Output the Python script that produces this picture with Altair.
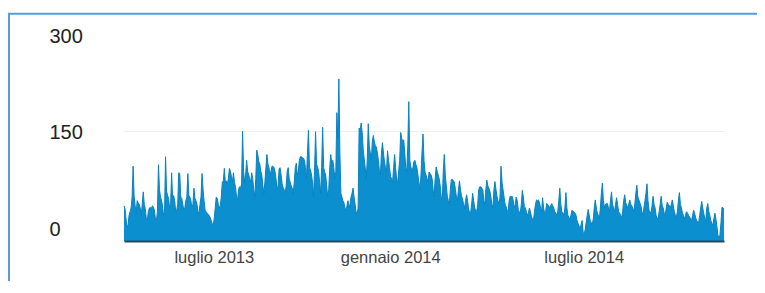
import altair as alt
import pandas as pd

# ---------------- data ----------------
start_date = "2013-02-23"
visits = [
    48, 44, 30, 19, 22, 35, 40, 45, 60, 102,
    60, 48, 38, 55, 52, 50, 45, 35, 50, 67,
    50, 44, 30, 28, 40, 45, 46, 44, 48, 46, 42, 30, 28, 40,
    104, 70, 60, 55, 48, 35, 40,
    115, 68, 62, 58, 45, 50,
    93, 58, 62, 55, 40, 42, 50,
    93, 92, 60, 58, 50, 42, 45, 55, 60,
    92, 62, 60, 55, 45, 50,
    72, 58, 55, 50, 40, 38, 50, 60,
    92, 70, 55, 42, 40, 38, 36, 35, 32, 28, 24, 22, 30, 45,
    60, 58, 50, 45, 48, 60, 80, 82,
    99, 80, 82, 78, 85,
    99, 95, 88, 80, 93, 80, 74, 60, 55, 70, 74, 72, 78,
    150, 95, 80, 90,
    110, 95, 90, 85, 80, 93, 85, 70, 60, 85,
    124, 118, 108, 105, 95, 90, 75, 65, 80, 100,
    118, 105, 100, 90, 95,
    102, 102, 100, 95, 85, 70, 75, 98,
    100, 90, 78, 73, 70, 65, 75, 95,
    100, 85, 80, 75, 72, 65, 80, 100,
    106, 90, 95, 110, 115, 115, 114, 113, 110, 100, 85, 120,
    151, 100, 97, 90, 80, 60, 95,
    149, 105, 101, 95, 80, 65, 100,
    155, 100, 94, 90, 75, 60, 70, 100,
    118, 105, 110, 100, 85, 95,
    175, 140, 221, 120, 65, 60,
    55, 52, 45, 42, 48, 55, 45, 50, 60, 65,
    72, 60, 50, 40, 37, 45,
    154, 150, 161, 148, 125, 112, 100, 85, 110,
    160, 130, 120, 110, 135,
    144, 135, 130, 128, 120, 110, 95, 90, 120,
    134, 120, 108, 100, 95,
    123, 110, 100, 88, 85, 80, 100,
    118, 100, 83, 80, 95, 110,
    148, 140, 135, 138, 120, 100, 95, 130,
    190, 110, 101, 95, 100, 108,
    110, 104, 100, 90, 80, 70, 90, 120,
    146, 110, 94, 90, 85, 80,
    94, 92, 90, 85, 70, 60, 85,
    101, 95, 90, 85, 75, 60, 55, 95,
    118, 90, 75, 61, 55, 50, 70,
    84, 84, 82, 80, 70, 60, 55, 70,
    82, 70, 61, 58, 50, 45, 55,
    63, 55, 43, 40, 38, 50,
    65, 55, 45, 42, 40, 50, 70,
    74, 74, 72, 70, 55, 50, 70,
    83, 75, 72, 68, 60, 50, 45, 70,
    81, 70, 61, 55, 50, 60,
    102, 80, 70, 60, 50, 47, 42, 40, 55,
    61, 60, 61, 55, 45, 50,
    60, 55, 43, 40, 38, 50,
    69, 60, 47, 45, 40, 35, 38,
    45, 40, 33, 30, 28, 40, 50,
    56, 55, 56, 52, 45, 40,
    59, 45, 38, 40,
    51, 50, 48, 45, 48,
    51, 48, 45, 40, 38, 35, 40, 55,
    72, 50, 40, 38, 35, 45,
    66, 45, 35, 32, 30, 35, 42,
    40, 40, 38, 35, 28,
    24, 20, 18, 22,
    28, 12, 10, 15, 25, 35,
    43, 35, 28, 25, 22, 30, 45,
    56, 45, 38, 35, 30, 45, 65,
    79, 55, 45, 50, 51,
    51, 45, 40, 55,
    67, 50, 45, 40, 50,
    59, 50, 40, 38, 35, 32, 40, 55,
    63, 52, 49, 45, 50,
    56, 50, 48, 45, 40, 50, 65,
    76, 60, 56, 52, 48, 40, 35, 45, 55, 65,
    78, 55, 42, 40, 38, 48,
    61, 50, 45, 35, 32, 30, 40, 50,
    61, 48, 45, 38, 35, 45,
    53, 50, 48, 45, 50,
    56, 48, 40, 35, 32, 40, 55,
    66, 50, 45, 38, 35, 30, 35,
    40, 38, 35, 33, 30, 28, 35,
    42, 38, 32, 28, 26, 25, 35, 45,
    54, 45, 38, 30, 28, 45,
    51, 40, 35, 28, 24, 22, 30,
    38, 30, 20, 8, 5, 8, 25, 46, 45, 44,
]
tick_dates = [(2013, 7, 1), (2014, 1, 1), (2014, 7, 1)]
tick_labels = ["luglio 2013", "gennaio 2014", "luglio 2014"]
y_ticks = [0, 150, 300]

# ---------------- build table ----------------
dates = pd.date_range(start_date, periods=len(visits), freq="D")
df = pd.DataFrame({"date": dates.strftime("%Y-%m-%dT00:00:00"), "visits": visits})

label_expr = "''"
for (yy, mm, dd), lab in reversed(list(zip(tick_dates, tick_labels))):
    label_expr = (f"(year(datum.value) == {yy} && month(datum.value) == {mm - 1}) "
                  f"? '{lab}' : {label_expr}")

first, last = dates[0], dates[-1]
x_scale = alt.Scale(
    domain=[alt.DateTime(year=first.year, month=first.month, date=first.day),
            alt.DateTime(year=last.year, month=last.month, date=last.day)],
    nice=False,
)

FILL = "#0b8fce"
LINE = "#0a82c2"
FRAME = "#5b9bd5"

area = alt.Chart(df).mark_area(
    color=FILL, opacity=1, interpolate="linear",
    line={"color": LINE, "strokeWidth": 1},
).encode(
    x=alt.X("date:T", scale=x_scale, axis=alt.Axis(
        values=[alt.DateTime(year=a, month=b, date=c) for a, b, c in tick_dates],
        labelExpr=label_expr, labelAlign="right", labelFlush=False, labelOverlap=False,
        labelFont="Liberation Sans", labelFontSize=16.5, labelColor="#444444",
        ticks=False, tickSize=0, labelPadding=8, grid=False, title=None,
        domainColor="#24485c", domainWidth=2, zindex=1)),
    y=alt.Y("visits:Q", scale=alt.Scale(domain=[0, 300], nice=False), axis=alt.Axis(
        orient="left", values=[150], grid=True, gridColor="#eeeeee", gridWidth=1,
        labels=False, ticks=False, tickSize=0, domain=False, title=None)),
)

ylab = alt.Chart(pd.DataFrame({"tick": y_ticks})).mark_point(opacity=0, size=1).encode(
    y=alt.Y("tick:Q", scale=alt.Scale(domain=[-18.3, 323.6], nice=False, zero=False),
            axis=alt.Axis(orient="left", values=y_ticks, labelAlign="left", labelPadding=75,
                          labelBaseline="middle", labelFont="Liberation Sans",
                          labelFontSize=20, labelColor="#222222", ticks=False, tickSize=0,
                          domain=False, grid=False, title=None)),
)

one = alt.Data(values=[{"k": 1}])
frame = alt.Chart(one).mark_rect(fill=None, fillOpacity=0, stroke=FRAME, strokeWidth=2).encode(
    x=alt.value(-115), x2=alt.value(700), y=alt.value(-7.3), y2=alt.value(300))

chart = alt.layer(area, ylab, frame).resolve_scale(y="independent").properties(
    width=600, height=220,
    background="white",
    autosize=alt.AutoSizeParams(type="none"),
    padding={"left": 116, "top": 13, "right": 33, "bottom": 40},
).configure_view(strokeWidth=0, stroke="transparent")

chart.save("out.html", embed_options={"renderer": "svg", "actions": False})
